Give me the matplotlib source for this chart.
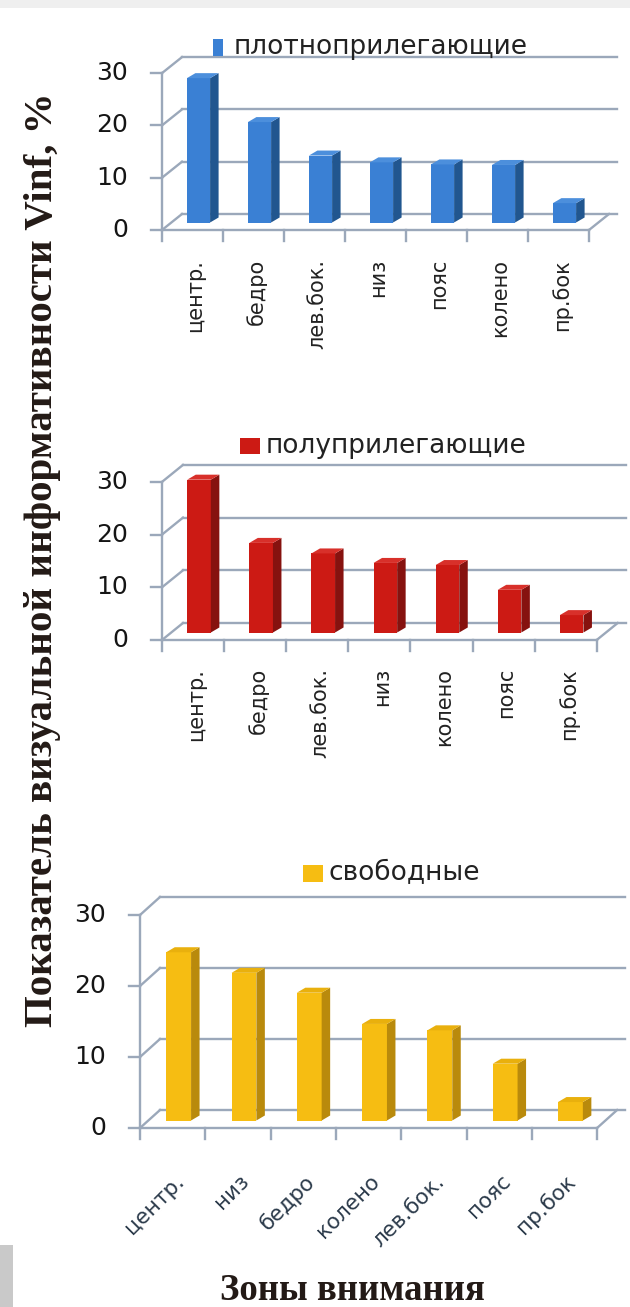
import matplotlib.pyplot as plt
from matplotlib.patches import Polygon, Rectangle

# Data
cats_tight = ["центр.", "бедро", "лев.бок.", "низ", "пояс", "колено", "пр.бок"]
vals_tight = [27.6, 19.2, 12.8, 11.5, 11.1, 11.0, 3.7]

cats_semi = ["центр.", "бедро", "лев.бок.", "низ", "колено", "пояс", "пр.бок"]
vals_semi = [29.0, 17.0, 15.0, 13.2, 12.8, 8.1, 3.3]

cats_free = ["центр.", "низ", "бедро", "колено", "лев.бок.", "пояс", "пр.бок"]
vals_free = [23.7, 20.8, 18.0, 13.6, 12.7, 8.0, 2.6]

y_ticks = [0, 10, 20, 30]

W, H = 630, 1307
fig = plt.figure(figsize=(W / 100, H / 100), dpi=100)
fig.patch.set_facecolor("white")

GRID = "#9ba8ba"


def px(x, y):
    # pixel (from top-left) -> figure fraction
    return x / W, 1 - y / H


def draw_panel(cats, vals, front, catw, zero, ppu, wall, colors, legend, leg_box, leg_tx,
               rot, lab_off):
    ax = fig.add_axes([0, 0, 1, 1])
    ax.set_xlim(-0.5 - front / catw, -0.5 + (W - front) / catw)
    ax.set_ylim((zero - H) / ppu, zero / ppu)
    ax.axis("off")
    ax.patch.set_alpha(0)

    n = len(cats)
    x0, x1 = -0.5, n - 0.5
    wx, wy = wall[0] / catw, wall[1] / ppu
    lw = 1.7

    # walls and grid
    for v in y_ticks:
        ax.plot([x0 + wx, x1 + wx + 8 / catw], [v + wy, v + wy], color=GRID, lw=lw, zorder=1)
        ax.plot([x0, x0 + wx], [v, v + wy], color=GRID, lw=lw, zorder=1)
        ax.plot([x0 - 11 / catw, x0], [v, v], color=GRID, lw=lw, zorder=1)
        ax.text(x0 - 34 / catw, v, str(v), ha="right", va="center",
                fontsize=18, color="#151515")
    ax.plot([x0, x0], [0, y_ticks[-1]], color=GRID, lw=lw, zorder=1)
    ax.plot([x0, x1], [0, 0], color=GRID, lw=lw, zorder=1)
    ax.plot([x1, x1 + wx], [0, wy], color=GRID, lw=lw, zorder=1)
    for k in range(n + 1):
        ax.plot([x0 + k, x0 + k], [0, -11 / ppu], color=GRID, lw=lw, zorder=1)

    # 3d-looking bars
    w = 0.38
    bx, by = 6 / catw, 7.5 / ppu
    dx, dy = 8.5 / catw, 5 / ppu
    front_c, side_c, top_c = colors
    for i, v in enumerate(vals):
        fx = i - w / 2 + bx
        ax.add_patch(Rectangle((fx, by), w, v, facecolor=front_c, edgecolor="none", zorder=3))
        ax.add_patch(Polygon([(fx + w, by), (fx + w + dx, by + dy), (fx + w + dx, by + v + dy),
                              (fx + w, by + v)], closed=True, facecolor=side_c,
                             edgecolor="none", zorder=3))
        ax.add_patch(Polygon([(fx, by + v), (fx + w, by + v), (fx + w + dx, by + v + dy),
                              (fx + dx, by + v + dy)], closed=True, facecolor=top_c,
                             edgecolor="none", zorder=3))

    # category labels
    for i, c in enumerate(cats):
        if rot == 90:
            ax.text(i + 3 / catw, -lab_off / ppu, c, rotation=90, ha="center", va="top",
                    fontsize=15, color="#222222")
        else:
            ax.text(i + 8 / catw, -lab_off / ppu, c, rotation=rot, rotation_mode="anchor",
                    ha="right", va="center", fontsize=15.5, color="#2c3b4b")

    # legend
    lx, ly, lw_, lh = leg_box
    fx0, fy0 = px(lx, ly + lh)
    fig.add_artist(Rectangle((fx0, fy0), lw_ / W, lh / H, transform=fig.transFigure,
                             facecolor=front_c, edgecolor="none"))
    tx, ty = px(leg_tx, ly + lh / 2)
    fig.text(tx, ty, legend, ha="left", va="center", fontsize=19, color="#222222")


draw_panel(cats_tight, vals_tight, 162, 61.0, 230, 5.23, (20, 16),
           ("#3a80d4", "#21568f", "#4c8fdc"), "плотноприлегающие", (213, 39, 10, 17), 234,
           90, 29)
draw_panel(cats_semi, vals_semi, 162, 62.1, 640, 5.27, (21, 17),
           ("#cc1a14", "#86120f", "#d8302a"), "полуприлегающие", (240, 438, 20, 16), 266,
           90, 28)
draw_panel(cats_free, vals_free, 140, 65.3, 1128, 7.1, (20, 18),
           ("#f6bd12", "#b98a0c", "#e9b00d"), "свободные", (303, 865, 20, 17), 329,
           45, 50)

# axis titles
fig.text(*px(43, 560), "Показатель визуальной информативности Vinf, %", rotation=90,
         ha="center", va="center", fontsize=29.5, fontweight="bold",
         family="Liberation Serif", color="#231a16")
fig.text(*px(352, 1290), "Зоны внимания", ha="center", va="center", fontsize=26.5,
         fontweight="bold", family="Liberation Serif", color="#231a16")

# scan edges
fig.add_artist(Rectangle(px(0, 8), 1, 8 / H, transform=fig.transFigure,
                         facecolor="#efefef", edgecolor="none"))
fig.add_artist(Rectangle(px(0, 1307), 13 / W, 62 / H, transform=fig.transFigure,
                         facecolor="#c9c9c9", edgecolor="none"))

fig.savefig("out.png", dpi=100)
